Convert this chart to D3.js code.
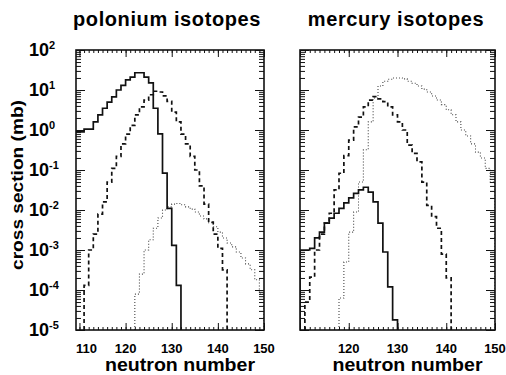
<!DOCTYPE html>
<html>
<head>
<meta charset="utf-8">
<script src="https://cdn.jsdelivr.net/npm/d3@7"></script>
<style>
body { margin: 0; background: #fff; }
text { font-family: "Liberation Sans", Arial, sans-serif; font-weight: bold; fill: #000; }
</style>
</head>
<body>
<svg id="chart" width="506" height="375"></svg>
<script>
// cross sections in mb, one value per neutron number, first bin at *_start
var po_solid_start = 109;
var po_solid = [0.9, 0.9, 1.05, 1.05, 1.6, 2.4, 3.5, 5.0, 6.7, 10, 13, 18, 21, 27, 27, 21, 15, 3.5, 0.8, 0.084, 0.011, 0.0013, 0.00013];
var po_dashed_start = 111;
var po_dashed = [1.3e-4, 1e-3, 2.5e-3, 7.9e-3, 0.016, 0.05, 0.11, 0.22, 0.45, 0.79, 1.3, 2.4, 3.8, 5.6, 7.6, 9.3, 8.9, 7.1, 5.2, 2.8, 1.6, 0.79, 0.45, 0.22, 0.1, 0.04, 0.014, 5e-3, 2.5e-3, 1.1e-3, 3.2e-4];
var po_dotted_start = 122;
var po_dotted = [7.9e-5, 2.5e-4, 1e-3, 1.8e-3, 3.5e-3, 6.3e-3, 0.010, 0.012, 0.014, 0.0145, 0.0135, 0.012, 0.0105, 0.0089, 0.0071, 0.006, 0.0048, 0.0038, 0.0028, 0.002, 0.0015, 0.0012, 8.9e-4, 6.3e-4, 4.5e-4, 3.2e-4, 1.8e-4, 7.9e-5];

var hg_solid_start = 110;
var hg_solid = [1e-3, 1e-3, 1.1e-3, 2e-3, 2.8e-3, 4.7e-3, 6.3e-3, 8.3e-3, 0.011, 0.015, 0.02, 0.026, 0.032, 0.037, 0.028, 0.016, 4.7e-3, 8.9e-4, 1.2e-4, 1.8e-5];
var hg_dashed_start = 111;
var hg_dashed = [5e-5, 2.1e-4, 1e-3, 2.5e-3, 4.7e-3, 8.3e-3, 0.032, 0.083, 0.23, 0.56, 1.2, 2.1, 3.8, 5.6, 6.8, 6.0, 5.1, 3.8, 2.4, 1.6, 1.0, 0.42, 0.26, 0.16, 0.05, 0.013, 6.8e-3, 3.5e-3, 7.9e-4, 2e-4];
var hg_dotted_start = 118;
var hg_dotted = [6.3e-5, 5e-4, 2.8e-3, 8.9e-3, 0.05, 0.32, 1.6, 6.3, 12.6, 16.6, 18.6, 20, 20, 19, 16.6, 14.8, 12.6, 10.5, 8.9, 7.1, 5.6, 4.3, 3.2, 2.4, 1.6, 1.0, 0.71, 0.45, 0.28, 0.2, 0.11, 0.05];

var x_ticks_po = [110, 120, 130, 140, 150];
var x_ticks_hg = [120, 130, 140, 150];
var y_exponents = [-5, -4, -3, -2, -1, 0, 1, 2];

var svg = d3.select("#chart");
var top_y = 50, bottom_y = 330;

var y = d3.scaleLog().domain([1e-5, 100]).range([bottom_y, top_y]);

var y_major = y_exponents.map(e => Math.pow(10, e));
var y_minor = [];
y_exponents.slice(0, -1).forEach(function(e) {
    for (var m = 2; m <= 9; m++) y_minor.push(m * Math.pow(10, e));
});

var styles = {
    solid:  {width: 1.7, dash: null, color: "#111"},
    dashed: {width: 1.7, dash: "4,3", color: "#111"},
    dotted: {width: 1.1, dash: "1,2", color: "#444"}
};

var panels = [
    {id: "po", title: "polonium isotopes", titleX: 167, x0: 76, x1: 264, domain: [109.25, 150],
     ticks: x_ticks_po, yLabels: true,
     series: [["dotted", po_dotted_start, po_dotted], ["dashed", po_dashed_start, po_dashed], ["solid", po_solid_start, po_solid]]},
    {id: "hg", title: "mercury isotopes", titleX: 396, x0: 300, x1: 495, domain: [110, 150],
     ticks: x_ticks_hg, yLabels: false,
     series: [["dotted", hg_dotted_start, hg_dotted], ["dashed", hg_dashed_start, hg_dashed], ["solid", hg_solid_start, hg_solid]]}
];

// histogram outline: up from the floor, one flat step per bin, back down
function steps(start, vals) {
    var pts = [[start, 1e-5]];
    vals.forEach(function(v, i) {
        pts.push([start + i, v]);
        pts.push([start + i + 1, v]);
    });
    pts.push([start + vals.length, 1e-5]);
    return pts;
}

panels.forEach(function(p) {
    var x = d3.scaleLinear().domain(p.domain).range([p.x0, p.x1]);
    var minorX = d3.range(Math.ceil(p.domain[0]), p.domain[1] + 0.01, 1);
    var majorX = d3.range(110, 151, 10);

    svg.append("clipPath").attr("id", "clip-" + p.id)
        .append("rect")
        .attr("x", p.x0).attr("y", top_y)
        .attr("width", p.x1 - p.x0).attr("height", bottom_y - top_y);

    var line = d3.line()
        .x(d => x(d[0]))
        .y(d => y(Math.max(d[1], 1e-5)));

    p.series.forEach(function(s) {
        var st = styles[s[0]];
        svg.append("path")
            .attr("clip-path", "url(#clip-" + p.id + ")")
            .attr("d", line(steps(s[1], s[2])))
            .attr("fill", "none")
            .attr("stroke", st.color)
            .attr("stroke-width", st.width)
            .attr("stroke-dasharray", st.dash);
    });

    // ticks on all four sides, pointing in
    var g = svg.append("g").attr("class", "ticks");
    g.append("g").attr("transform", `translate(0,${bottom_y})`)
        .call(d3.axisBottom(x).tickValues(minorX).tickSize(-3).tickFormat(""));
    g.append("g").attr("transform", `translate(0,${bottom_y})`)
        .call(d3.axisBottom(x).tickValues(majorX.filter(v => v <= p.domain[1])).tickSize(-7).tickFormat(""));
    g.append("g").attr("transform", `translate(0,${top_y})`)
        .call(d3.axisTop(x).tickValues(minorX).tickSize(-3).tickFormat(""));
    g.append("g").attr("transform", `translate(0,${top_y})`)
        .call(d3.axisTop(x).tickValues(majorX.filter(v => v <= p.domain[1])).tickSize(-7).tickFormat(""));
    g.append("g").attr("transform", `translate(${p.x0},0)`)
        .call(d3.axisLeft(y).tickValues(y_minor).tickSize(-5).tickFormat(""));
    g.append("g").attr("transform", `translate(${p.x0},0)`)
        .call(d3.axisLeft(y).tickValues(y_major).tickSize(-9).tickFormat(""));
    g.append("g").attr("transform", `translate(${p.x1},0)`)
        .call(d3.axisRight(y).tickValues(y_minor).tickSize(-5).tickFormat(""));
    g.append("g").attr("transform", `translate(${p.x1},0)`)
        .call(d3.axisRight(y).tickValues(y_major).tickSize(-9).tickFormat(""));
    g.selectAll(".domain").remove();
    g.selectAll("line").attr("stroke", "#111").attr("stroke-width", 1);

    svg.append("rect")
        .attr("x", p.x0).attr("y", top_y)
        .attr("width", p.x1 - p.x0).attr("height", bottom_y - top_y)
        .attr("fill", "none").attr("stroke", "#111").attr("stroke-width", 1.6);

    // x tick labels
    svg.selectAll(".xlab-" + p.id)
        .data(p.ticks)
        .enter().append("text")
        .attr("class", "xlab-" + p.id)
        .attr("x", d => x(d) + (d == 110 ? 7 : 0))
        .attr("y", 353)
        .attr("text-anchor", "middle")
        .style("font-size", "13px")
        .text(d => d);

    svg.append("text")
        .attr("x", (p.x0 + p.x1) / 2 + 10)
        .attr("y", 371)
        .attr("text-anchor", "middle")
        .attr("textLength", 150)
        .attr("lengthAdjust", "spacingAndGlyphs")
        .style("font-size", "18px")
        .text("neutron number");

    svg.append("text")
        .attr("x", p.titleX)
        .attr("y", 26)
        .attr("text-anchor", "middle")
        .style("font-size", "20px")
        .style("letter-spacing", "0.6px")
        .text(p.title);

    if (p.yLabels) {
        var lab = svg.selectAll(".ylab")
            .data(y_exponents)
            .enter().append("text")
            .attr("class", "ylab")
            .attr("x", 29)
            .attr("y", d => y(Math.pow(10, d)) + 6)
            .style("font-size", "18px");
        lab.append("tspan").text("10");
        lab.append("tspan")
            .attr("dy", -7)
            .style("font-size", "11px")
            .text(d => d);
    }
});

svg.append("text")
    .attr("transform", "translate(23,185) rotate(-90)")
    .attr("text-anchor", "middle")
    .attr("textLength", 170)
    .attr("lengthAdjust", "spacingAndGlyphs")
    .style("font-size", "17px")
    .text("cross section (mb)");
</script>
</body>
</html>
